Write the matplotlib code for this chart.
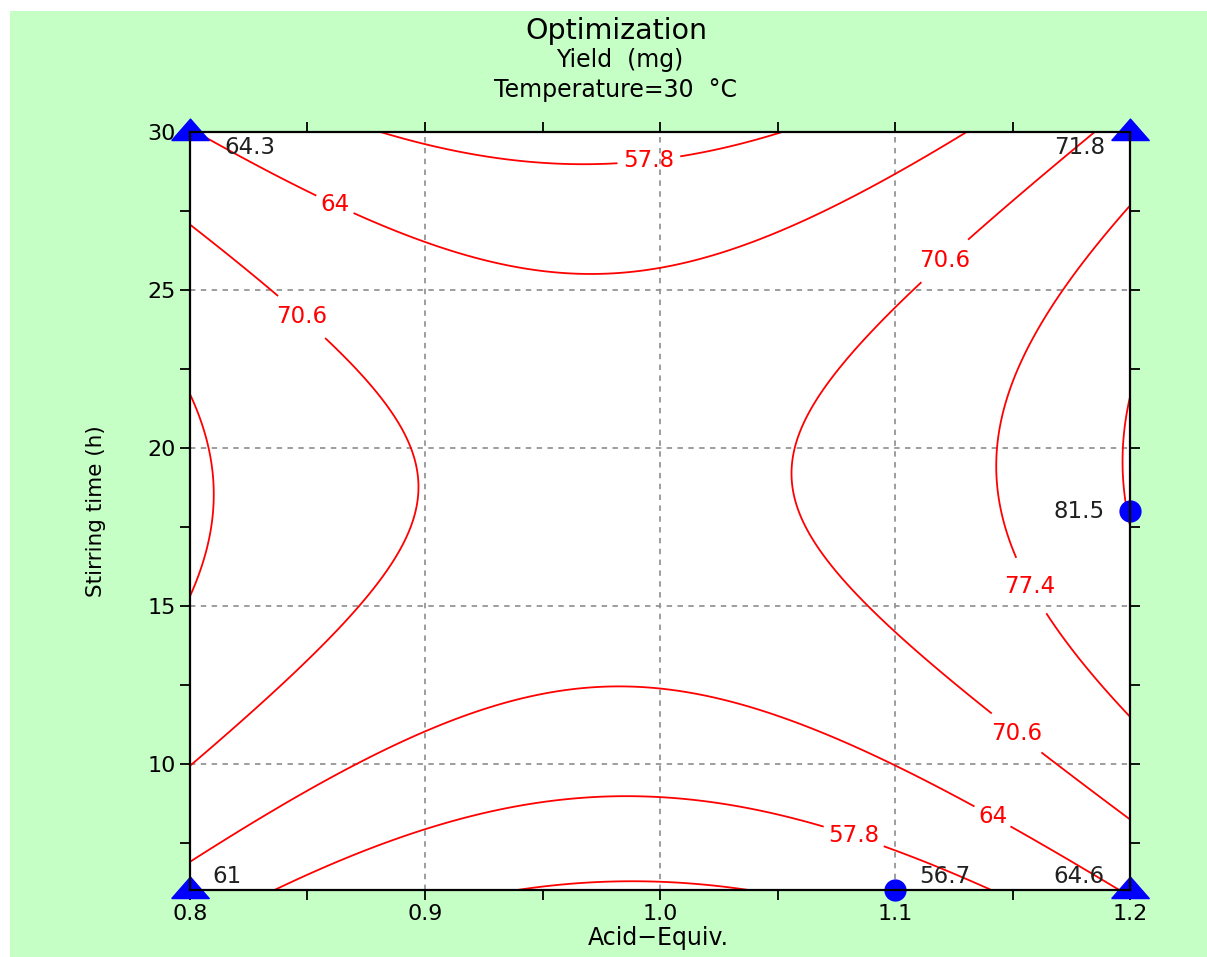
import numpy as np
import matplotlib
matplotlib.use("Agg")
import matplotlib.pyplot as plt
from matplotlib.patches import Rectangle
from matplotlib.path import Path

# points traced along each contour line of the picture: (acid equiv, hours)
lvl_51 = [(0.943, 6.0), (0.974, 6.2), (0.9995, 6.23), (1.032, 6.0)]
lvl_578 = [(0.888, 30), (0.900, 29.7), (0.974, 29.1), (1.047, 30),
           (0.838, 6.0), (0.900, 7.85), (0.974, 8.9), (0.9995, 8.89),
           (1.063, 8.1), (1.101, 7.2), (1.139, 6.03)]
lvl_64 = [(0.806, 29.8), (0.848, 28.1), (0.900, 26.45), (0.974, 25.44),
          (0.9995, 25.58), (1.054, 26.79), (1.100, 28.53), (1.132, 30),
          (0.800, 7.06), (0.851, 9.18), (0.900, 11.14), (0.939, 12.2),
          (0.967, 12.5), (0.9995, 12.47), (1.054, 11.5), (1.100, 10.02),
          (1.130, 8.86), (1.172, 6.91), (1.198, 6.08)]
lvl_706 = [(0.800, 27.0), (0.840, 24.6), (0.868, 22.7), (0.892, 20.25),
           (0.896, 19.2), (0.895, 17.97), (0.871, 15.1), (0.840, 12.5),
           (0.800, 10.0), (1.186, 30), (1.129, 26.37), (1.100, 24.31),
           (1.081, 22.89), (1.060, 20.46), (1.057, 19.15), (1.060, 18.0),
           (1.081, 15.64), (1.100, 14.37), (1.126, 12.26), (1.200, 8.33)]
lvl_774 = [(0.801, 21.8), (0.809, 20.25), (0.812, 18.2), (0.809, 17.0),
           (0.800, 15.3), (1.199, 27.64), (1.171, 25.1), (1.146, 21.62),
           (1.142, 19.94), (1.143, 18.35), (1.154, 16.03), (1.172, 13.92),
           (1.200, 11.5)]
lvl_84 = [(1.199, 21.78), (1.196, 19.83), (1.200, 17.4)]

levels = [51.2, 57.8, 64.0, 70.6, 77.4, 84.0]
labelled = [57.8, 64.0, 70.6, 77.4]
level_text = {57.8: '57.8', 64.0: '64', 70.6: '70.6', 77.4: '77.4'}

# measured design points
pt_acid = [0.8, 1.2, 0.8, 1.2, 1.1, 1.2]
pt_time = [30, 30, 6, 6, 6, 18]
pt_yield = ['64.3', '71.8', '61', '64.6', '56.7', '81.5']
pt_shape = ['tri', 'tri', 'tri', 'tri', 'dot', 'dot']

label_pos = [(0.995, 29.3), (0.861, 27.6), (0.847, 24.1), (1.122, 25.85),
             (1.157, 15.6), (1.152, 11.0), (1.142, 8.4), (1.082, 7.6)]
val_offset = [(43, -11.5), (-36, -11.5), (26.5, 9.5), (-37, 9.5),
              (36, 9.5), (-37, 0)]

W, H = 1207, 957
green = '#C6FFC6'


def design(a, t):
    x = (np.asarray(a) - 1.0) / 0.2
    u = (np.asarray(t) - 18.0) / 12.0
    return np.stack([np.ones_like(x), x, u, x * x, u * u, x * u], axis=-1)


# quadratic response surface fitted to the traced contour points
pts, zs = [], []
for lv, trace in zip(levels, [lvl_51, lvl_578, lvl_64, lvl_706, lvl_774, lvl_84]):
    for a, t in trace:
        pts.append((a, t))
        zs.append(lv)
pts = np.array(pts, dtype=float)
coef, *_ = np.linalg.lstsq(design(pts[:, 0], pts[:, 1]), np.array(zs), rcond=None)

ga, gt = np.meshgrid(np.linspace(0.8, 1.2, 300), np.linspace(6, 30, 300))
gz = design(ga, gt) @ coef

fig = plt.figure(figsize=(W / 100, H / 100), dpi=100, facecolor='white')
fig.patches.append(Rectangle((10 / W, 0), 1, 1 - 11 / H, transform=fig.transFigure,
                             facecolor=green, edgecolor='none', zorder=-10))
ax = fig.add_axes([190 / W, 67 / H, 940 / W, 758 / H])
ax.set_facecolor('white')

ax.contour(ga, gt, gz, levels=[lv for lv in levels if lv not in labelled],
           colors='#FF0000', linewidths=1.3)
cs = ax.contour(ga, gt, gz, levels=labelled, colors='#FF0000', linewidths=1.3)
txts = ax.clabel(cs, fmt=level_text, manual=label_pos, inline=True,
                 inline_spacing=6, fontsize=16.5)
for t in txts:
    t.set_rotation(0)

tri = Path([(-1.4, -0.6), (1.4, -0.6), (0, 1.0), (-1.4, -0.6)])
for a, t, s, v, off in zip(pt_acid, pt_time, pt_shape, pt_yield, val_offset):
    if s == 'tri':
        ax.plot(a, t, marker=tri, ms=27, color='#0000FF', clip_on=False, zorder=2.4)
    else:
        ax.plot(a, t, marker='o', ms=15, color='#0000FF', clip_on=False, zorder=2.4)
    ax.annotate(v, (a, t), xytext=off, textcoords='offset points',
                ha='center', va='center', fontsize=16.5, color='#202020')

ax.set_xlim(0.8, 1.2)
ax.set_ylim(6, 30)
ax.set_xticks([0.8, 0.9, 1.0, 1.1, 1.2])
ax.set_xticklabels(['0.8', '0.9', '1.0', '1.1', '1.2'])
ax.set_xticks([0.85, 0.95, 1.05, 1.15], minor=True)
ax.set_yticks([10, 15, 20, 25, 30])
ax.set_yticks([7.5, 12.5, 17.5, 22.5, 27.5], minor=True)
ax.tick_params(which='both', direction='out', length=7, width=1.3,
               top=True, right=True, labelsize=16, pad=3)
ax.grid(True, which='major', color='#959595', linestyle=(0, (3, 3)), linewidth=1.3)
ax.set_axisbelow(True)
for sp in ax.spines.values():
    sp.set_linewidth(1.6)

fig.text(616 / W, 1 - 39 / H, 'Optimization', fontsize=20.5, ha='center', va='baseline')
fig.text(620 / W, 1 - 67 / H, 'Yield  (mg)', fontsize=17, ha='center', va='baseline')
fig.text(616 / W, 1 - 97 / H, 'Temperature=30  °C', fontsize=17, ha='center', va='baseline')
fig.text(658 / W, 1 - 945 / H, 'Acid\u2212Equiv.', fontsize=17, ha='center', va='baseline')
fig.text(96 / W, 1 - 511 / H, 'Stirring time (h)', fontsize=15.5, rotation=90,
         ha='center', va='center')

fig.savefig('out.png', dpi=100, facecolor='white')
